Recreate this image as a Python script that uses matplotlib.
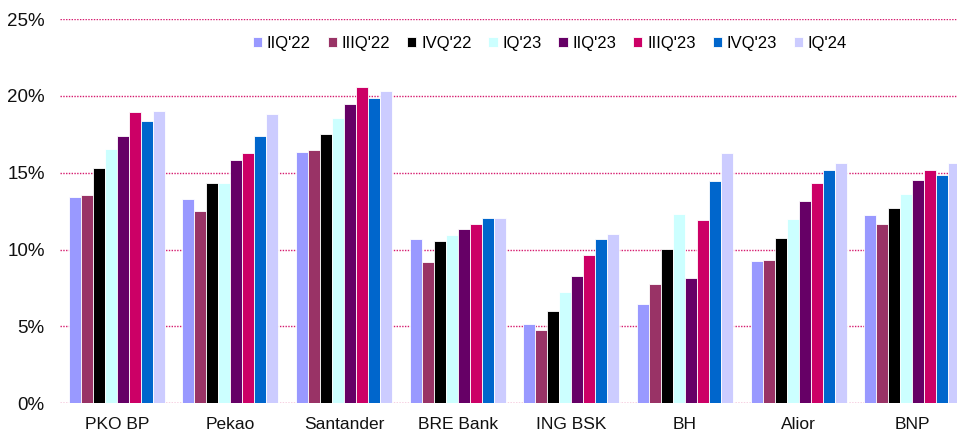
import matplotlib
matplotlib.use("Agg")
import matplotlib.pyplot as plt
import numpy as np
from matplotlib.ticker import FuncFormatter

plt.rcParams['font.family'] = ['Liberation Sans', 'DejaVu Sans']

banks = ["PKO BP", "Pekao", "Santander", "BRE Bank", "ING BSK", "BH", "Alior", "BNP"]
series = ["IIQ'22", "IIIQ'22", "IVQ'22", "IQ'23", "IIQ'23", "IIIQ'23", "IVQ'23", "IQ'24"]
colors = ["#9999FF", "#993366", "#000000", "#CCFFFF", "#660066", "#CC0066", "#0066CC", "#CCCCFF"]

q2_22 = [13.4, 13.3, 16.35, 10.67, 5.14, 6.44, 9.26, 12.25]
q3_22 = [13.55, 12.5, 16.48, 9.19, 4.79, 7.76, 9.34, 11.65]
q4_22 = [15.3, 14.35, 17.5, 10.58, 6.03, 10.04, 10.73, 12.69]
q1_23 = [16.55, 14.35, 18.56, 10.93, 7.26, 12.32, 11.99, 13.64]
q2_23 = [17.4, 15.83, 19.45, 11.36, 8.3, 8.13, 13.14, 14.53]
q3_23 = [18.93, 16.26, 20.6, 11.67, 9.63, 11.9, 14.35, 15.16]
q4_23 = [18.39, 17.4, 19.88, 12.06, 10.67, 14.44, 15.16, 14.87]
q1_24 = [19.0, 18.82, 20.32, 12.06, 11.0, 16.26, 15.65, 15.65]
values = [q2_22, q3_22, q4_22, q1_23, q2_23, q3_23, q4_23, q1_24]

fig = plt.figure(figsize=(9.57, 4.4), dpi=100)
ax = fig.add_axes([60/957, 1-403.3/440, 909/957, (403.3-19)/440])

x = np.arange(len(banks))
w = 0.1056
for j, (name, vals, c) in enumerate(zip(series, values, colors)):
    ax.bar(x + (j - 3.5) * w, vals, width=w, color=c, label=name,
           edgecolor='white', linewidth=0.6, zorder=3)

ax.set_xlim(-0.5, len(banks) - 0.5)
ax.set_ylim(0, 25)
ax.set_yticks(np.arange(0, 26, 5))
ax.yaxis.set_major_formatter(FuncFormatter(lambda v, p: f"{int(v)}%"))
ax.set_xticks(x)
ax.set_xticklabels(banks)
ax.tick_params(axis='both', length=0, colors='#111111')
ax.tick_params(axis='x', labelsize=12.5, pad=10)
ax.tick_params(axis='y', labelsize=13.5, pad=11)
for s in ax.spines.values():
    s.set_visible(False)
ax.yaxis.grid(True, color='#D61A6E', linestyle=(0, (1, 1)), linewidth=1.0, zorder=1)
ax.set_axisbelow(True)

leg = ax.legend(loc='center', bbox_to_anchor=(0.539, 0.937), ncol=8, frameon=False,
                fontsize=12, handlelength=0.55, handleheight=0.55, handletextpad=0.3,
                columnspacing=1.0, borderaxespad=0, borderpad=0)

fig.savefig("out.png", dpi=100)
